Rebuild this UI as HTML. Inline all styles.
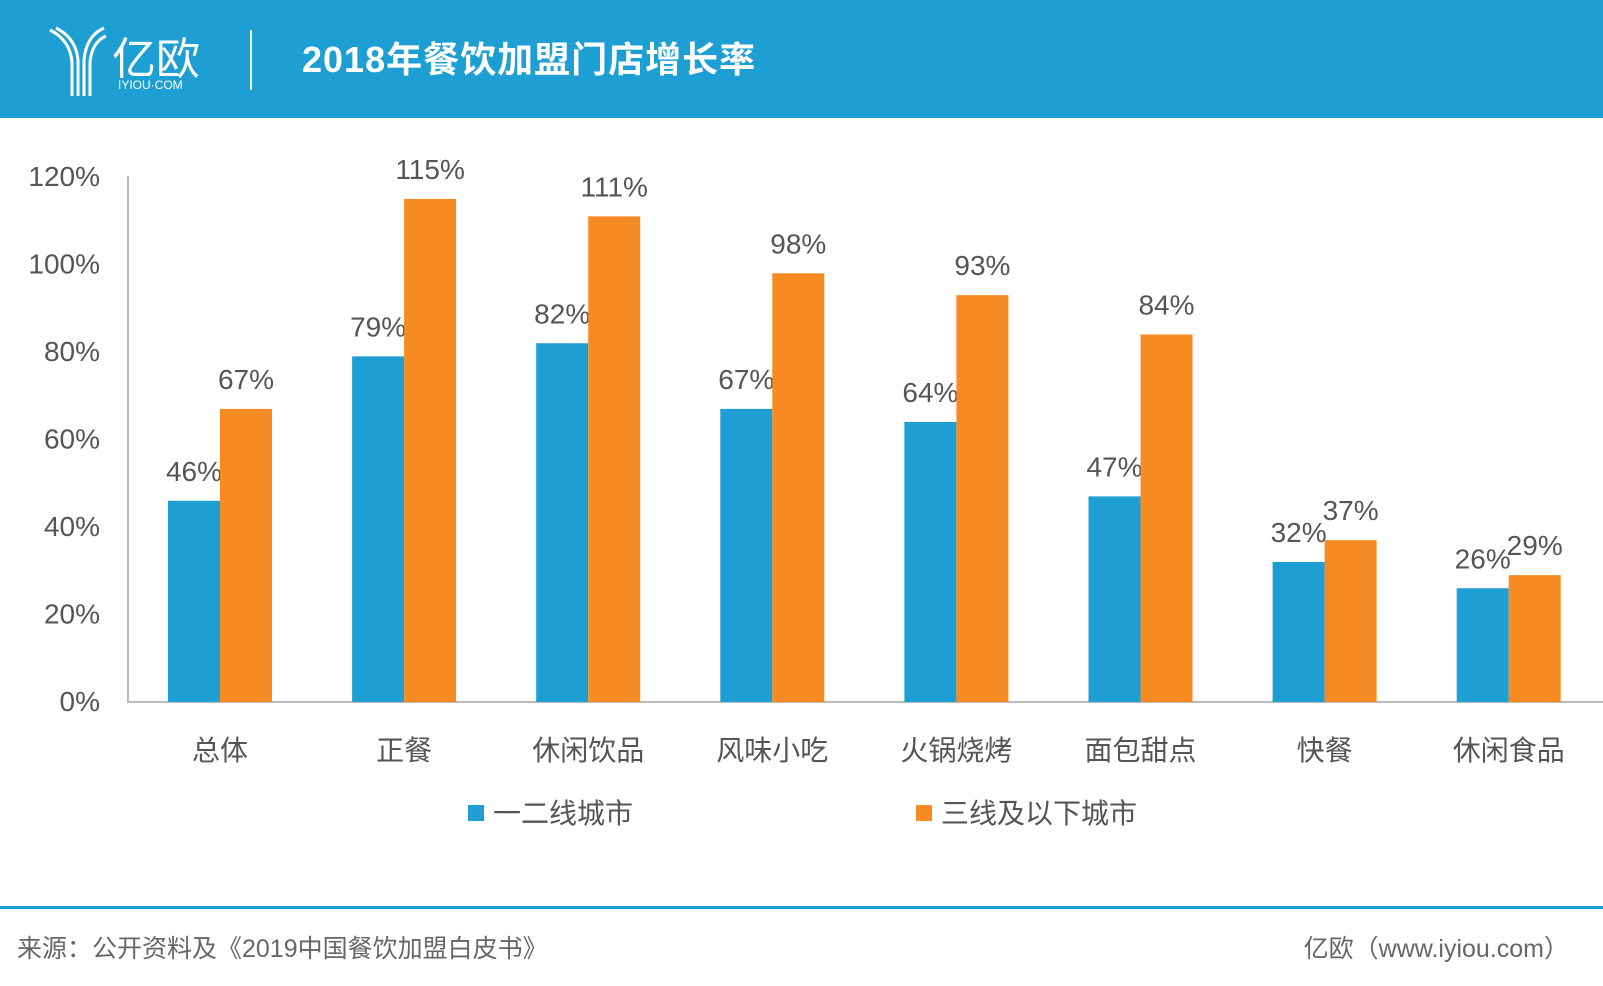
<!DOCTYPE html>
<html><head><meta charset="utf-8"><style>
body{margin:0;width:1603px;height:986px;background:#fff;overflow:hidden;font-family:"Liberation Sans","Noto Sans CJK SC",sans-serif}
#hdr{position:absolute;left:0;top:0;width:1603px;height:118px;background:#1e9fd3}
</style></head><body>
<div id="hdr"></div>
<svg width="1603" height="986" style="position:absolute;left:0;top:0">
<g stroke="#fff" stroke-width="3" fill="none">
<path d="M50 30 Q70 40 72 62 L72 96 M56 28 Q76 38 78 60 L78 96 M84 96 L84 60 Q86 36 104 28 M90 96 L90 62 Q92 42 106 36"/>
</g>
<text x="112" y="74" font-size="44" fill="#fff">亿欧</text>
<text x="118" y="89" font-size="12" fill="#fff">IYIOU·COM</text>
<rect x="250" y="30" width="2" height="60" fill="#fff"/>
<text x="302" y="72" font-size="36" font-weight="bold" letter-spacing="1" fill="#fff">2018年餐饮加盟门店增长率</text>
<g id="plot"></g>
<rect x="0" y="906" width="1603" height="3" fill="#1e9fd3"/>
<text x="17" y="957" font-size="25" fill="#666">来源：公开资料及《2019中国餐饮加盟白皮书》</text>
<text x="1569" y="957" font-size="25" fill="#666" text-anchor="end">亿欧（www.iyiou.com）</text>
</svg>
<script>
const categories=["总体","正餐","休闲饮品","风味小吃","火锅烧烤","面包甜点","快餐","休闲食品"];
const seriesA=[46,79,82,67,64,47,32,26];
const seriesB=[67,115,111,98,93,84,37,29];
const tickLabels=["0%","20%","40%","60%","80%","100%","120%"];
const tickValues=[0,20,40,60,80,100,120];
const NS="http://www.w3.org/2000/svg",g=document.getElementById('plot');
const y0=702,pxPer=525/120,x0=220,step=184.1,bw=52;
const y=v=>y0-v*pxPer, xc=i=>x0+i*step;
function mk(t,a){const e=document.createElementNS(NS,t);for(const k in a)e.setAttribute(k,a[k]);g.appendChild(e);return e;}
tickValues.forEach((v,i)=>{const t=mk('text',{x:100,y:y(v)+9,'font-size':28,fill:'#555','text-anchor':'end'});t.textContent=tickLabels[i];

});
let a=mk('rect',{x:127,y:176,width:2,height:527,fill:'#bbb'});


a=mk('rect',{x:127,y:701,width:1476,height:2,fill:'#bbb'});


categories.forEach((c,i)=>{
 const cx=xc(i);
 [[seriesA[i],'#1e9fd3',cx-bw,'bar-tier12'],[seriesB[i],'#f68b24',cx,'bar-tier3']].forEach(([v,col,x,n])=>{
  const r=mk('rect',{x:x,y:y(v),width:bw,height:y0-y(v),fill:col});
  
  
  const t=mk('text',{x:x+bw/2,y:y(v)-20,'font-size':28,fill:'#555','text-anchor':'middle'});t.textContent=v+'%';
  
  
 });
 const t=mk('text',{x:cx,y:760,'font-size':28,fill:'#555','text-anchor':'middle'});t.textContent=c;
 
 
});
[['#1e9fd3',468,'一二线城市','legend-tier12'],['#f68b24',916,'三线及以下城市','legend-tier3']].forEach(([col,x,s,n])=>{
 const r=mk('rect',{x:x,y:805,width:16,height:16,fill:col});
 
 
 const t=mk('text',{x:x+25,y:823,'font-size':28,fill:'#555'});t.textContent=s;
 
 
});
</script>
</body></html>
